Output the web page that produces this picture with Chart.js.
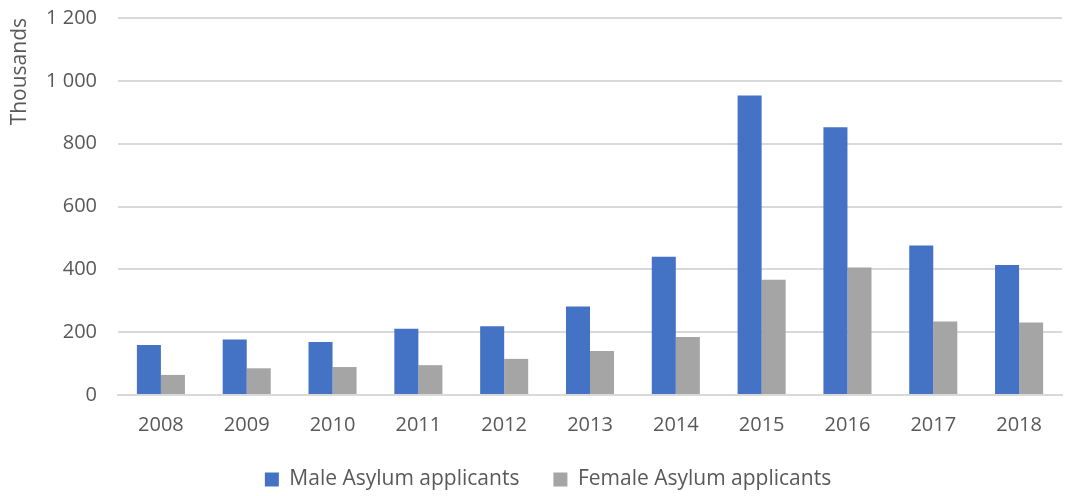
<!DOCTYPE html>
<html>
<head>
<meta charset="utf-8">
<script src="https://cdn.jsdelivr.net/npm/chart.js@4"></script>
<style>
  html, body { margin: 0; padding: 0; background: #fff; overflow: hidden; }
  #wrap { width: 1069px; height: 496px; }
</style>
</head>
<body>
<div id="wrap"><canvas id="asylumChart"></canvas></div>
<script>
let years = ['2008', '2009', '2010', '2011', '2012', '2013', '2014', '2015', '2016', '2017', '2018'];
let maleApplicants = [159, 177, 169, 211, 219, 282, 440, 953, 852, 476, 414];
let femaleApplicants = [64, 85, 89, 95, 115, 140, 185, 367, 406, 234, 231];

let textColor = '#595959';
let gridColor = '#D9D9D9';
let fontFamily = "'Open Sans', 'Liberation Sans', sans-serif";

let options = {
    maintainAspectRatio: false,
    responsive: true,
    animation: false,
    layout: {
        // left padding nudges the centred legend to the right like the original
        padding: { top: 0, left: 34, right: 7, bottom: -4 }
    },
    scales: {
        y: {
            min: 0,
            max: 1200,
            ticks: {
                stepSize: 200,
                color: textColor,
                font: { family: fontFamily, size: 20 },
                padding: 21,
                callback: function (value) {
                    return value.toLocaleString('en-US').replace(',', ' ');
                }
            },
            grid: { color: gridColor, lineWidth: 2, drawTicks: false },
            border: { display: false },
            title: {
                display: true,
                text: 'Thousands',
                align: 'end',
                color: textColor,
                font: { family: fontFamily, size: 21 },
                padding: { top: -27, bottom: 13 }
            },
            afterFit: function (scale) {
                // fixed axis box so the plot starts where the original does
                scale.width = 84;
                scale.paddingTop = 18;
            }
        },
        x: {
            ticks: {
                color: textColor,
                font: { family: fontFamily, size: 20, lineHeight: 1.0 },
                padding: 20
            },
            grid: { display: false, drawTicks: false },
            border: { color: gridColor, width: 2 },
            afterFit: function (scale) {
                scale.height = 40;
            }
        }
    },
    datasets: {
        bar: {
            categoryPercentage: 0.56,
            barPercentage: 1.0
        }
    },
    plugins: {
        legend: {
            position: 'bottom',
            labels: {
                color: textColor,
                font: { family: fontFamily, size: 21 },
                boxWidth: 14,
                boxHeight: 14,
                padding: 34
            }
        },
        title: { display: false },
        tooltip: { enabled: false }
    }
};

let AsylumChart = new Chart(document.getElementById('asylumChart'), {
    type: 'bar',
    data: {
        labels: years,
        datasets: [
            {
                label: 'Male Asylum applicants',
                data: maleApplicants,
                backgroundColor: '#4472C4',
                borderWidth: 0
            },
            {
                label: 'Female Asylum applicants',
                data: femaleApplicants,
                backgroundColor: '#A5A5A5',
                borderWidth: 0
            }
        ]
    },
    options: options
});
</script>
</body>
</html>
